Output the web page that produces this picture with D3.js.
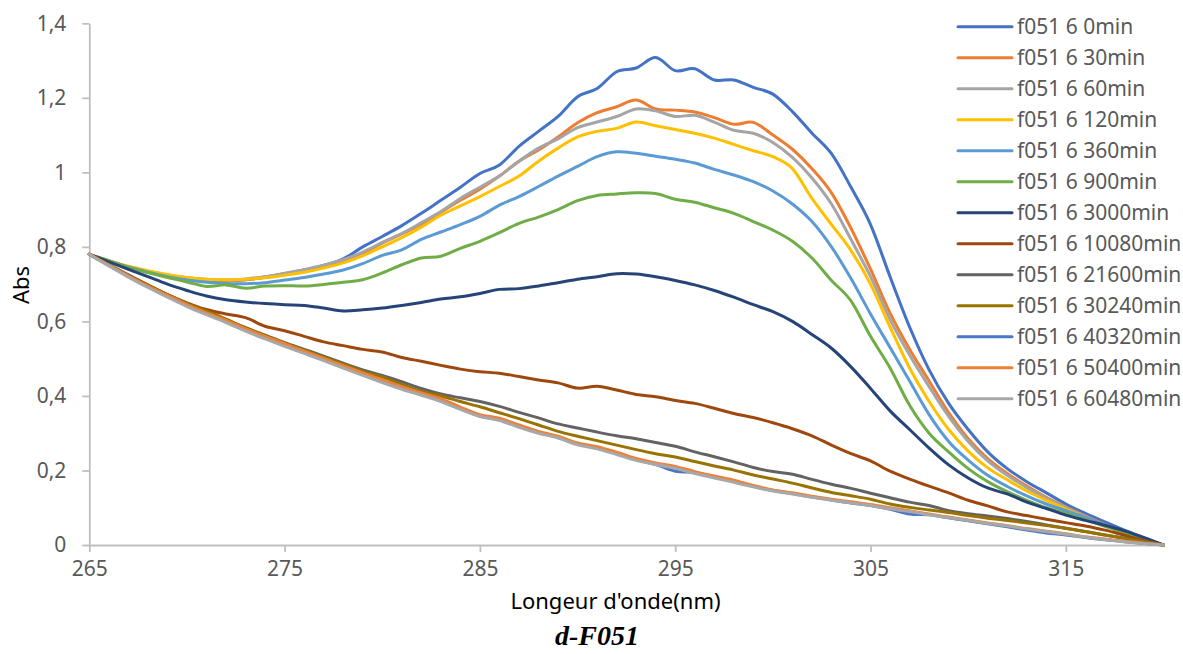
<!DOCTYPE html>
<html>
<head>
<meta charset="utf-8">
<script src="https://cdn.jsdelivr.net/npm/d3@7"></script>
<style>
  html, body { margin: 0; padding: 0; background: #fff; }
  svg { display: block; }
</style>
</head>
<body>
<svg id="chart" width="1183" height="654"></svg>
<script>
// Wavelength grid (nm)
const wavelengths = [265,266,267,268,269,270,271,272,273,274,275,276,277,278,279,
  280,281,282,283,284,285,286,287,288,289,290,291,292,293,294,295,296,297,298,299,
  300,301,302,303,304,305,306,307,308,309,310,311,312,313,314,315,316,317,318,319,320];

// Absorbance spectra, one array per irradiation time
const abs0 = [0.78,0.762,0.746,0.733,0.723,0.716,0.711,0.709,0.712,0.719,0.728,0.738,0.75,0.768,0.80,
  0.828,0.857,0.89,0.925,0.96,0.997,1.02,1.07,1.11,1.15,
  1.203,1.225,1.27,1.28,1.308,1.273,1.278,1.248,1.248,1.228,
  1.21,1.163,1.105,1.05,0.96,
  0.86,0.72,0.585,0.47,0.38,0.31,0.25,0.205,0.17,0.14,0.11,0.085,0.062,0.04,0.02,0];
const abs30 = [0.78,0.762,0.746,0.734,0.724,0.717,0.712,0.71,0.712,0.718,0.726,0.736,0.748,0.763,0.783,
  0.81,0.835,0.86,0.893,0.925,0.955,0.99,1.03,1.06,1.095,
  1.133,1.16,1.176,1.194,1.17,1.167,1.162,1.147,1.129,1.134,
  1.10,1.062,1.01,0.945,0.85,
  0.74,0.622,0.525,0.44,0.355,0.285,0.232,0.192,0.158,0.128,0.102,0.078,0.055,0.033,0.014,0];
const abs60 = [0.78,0.762,0.746,0.734,0.724,0.717,0.713,0.711,0.714,0.72,0.729,0.739,0.751,0.766,0.786,
  0.812,0.836,0.865,0.895,0.93,0.96,0.99,1.03,1.065,1.09,
  1.12,1.135,1.15,1.17,1.165,1.15,1.153,1.135,1.113,1.105,
  1.08,1.04,0.985,0.915,0.82,
  0.72,0.605,0.51,0.425,0.345,0.278,0.226,0.187,0.154,0.125,0.1,0.076,0.053,0.032,0.013,0];
const abs120 = [0.78,0.763,0.748,0.736,0.726,0.718,0.713,0.712,0.713,0.717,0.724,0.732,0.743,0.757,0.776,
  0.80,0.825,0.853,0.885,0.91,0.935,0.962,0.99,1.03,1.065,
  1.095,1.11,1.118,1.135,1.125,1.115,1.105,1.092,1.075,1.058,
  1.042,1.01,0.93,0.86,0.79,
  0.70,0.585,0.475,0.385,0.31,0.252,0.207,0.175,0.145,0.12,0.096,0.073,0.052,0.031,0.013,0];
const abs360 = [0.78,0.762,0.746,0.732,0.72,0.711,0.705,0.702,0.701,0.704,0.711,0.718,0.727,0.738,0.755,
  0.777,0.792,0.82,0.84,0.86,0.882,0.912,0.935,0.962,0.99,
  1.016,1.042,1.055,1.051,1.043,1.035,1.025,1.008,0.993,0.975,
  0.95,0.915,0.868,0.80,0.715,
  0.62,0.53,0.44,0.35,0.278,0.228,0.187,0.157,0.132,0.11,0.092,0.074,0.054,0.033,0.013,0];
const abs900 = [0.78,0.763,0.745,0.731,0.718,0.706,0.694,0.698,0.689,0.695,0.696,0.695,0.699,0.705,0.712,
  0.73,0.752,0.77,0.775,0.796,0.815,0.838,0.863,0.88,0.9,
  0.924,0.938,0.942,0.945,0.943,0.928,0.92,0.905,0.89,0.868,
  0.845,0.815,0.77,0.71,0.655,
  0.56,0.475,0.375,0.30,0.25,0.205,0.17,0.143,0.12,0.1,0.085,0.068,0.05,0.032,0.013,0];
const abs3000 = [0.78,0.76,0.74,0.72,0.70,0.683,0.668,0.658,0.652,0.648,0.645,0.643,0.636,0.628,0.631,
  0.636,0.643,0.651,0.66,0.666,0.675,0.686,0.688,0.695,0.704,
  0.713,0.72,0.728,0.727,0.72,0.71,0.698,0.683,0.665,0.645,
  0.626,0.60,0.565,0.528,0.478,
  0.42,0.36,0.31,0.26,0.215,0.18,0.153,0.137,0.115,0.098,0.08,0.066,0.053,0.038,0.02,0];
const abs10080 = [0.78,0.752,0.725,0.698,0.672,0.65,0.632,0.62,0.61,0.587,0.575,0.56,0.545,0.535,0.525,
  0.518,0.503,0.493,0.482,0.472,0.465,0.461,0.452,0.443,0.435,
  0.421,0.426,0.416,0.404,0.398,0.388,0.38,0.367,0.353,0.342,
  0.328,0.312,0.293,0.268,0.245,
  0.226,0.198,0.177,0.158,0.14,0.12,0.105,0.089,0.079,0.069,0.06,0.051,0.04,0.026,0.012,0];
const abs21600 = [0.78,0.752,0.724,0.697,0.672,0.648,0.627,0.605,0.583,0.563,0.543,0.525,0.507,0.488,0.47,
  0.455,0.438,0.42,0.405,0.395,0.385,0.372,0.356,0.341,0.325,
  0.314,0.303,0.293,0.285,0.275,0.265,0.25,0.237,0.223,0.208,
  0.197,0.19,0.176,0.163,0.152,
  0.139,0.127,0.115,0.106,0.092,0.084,0.078,0.071,0.063,0.054,0.045,0.036,0.027,0.018,0.009,0];
const abs30240 = [0.78,0.752,0.724,0.697,0.672,0.648,0.628,0.606,0.583,0.562,0.542,0.523,0.504,0.485,0.466,
  0.451,0.43,0.412,0.40,0.385,0.371,0.355,0.339,0.322,0.305,
  0.292,0.28,0.268,0.256,0.245,0.236,0.224,0.212,0.201,0.188,
  0.177,0.166,0.153,0.141,0.132,
  0.123,0.11,0.101,0.094,0.087,0.079,0.072,0.066,0.059,0.052,0.045,0.036,0.027,0.018,0.009,0];
const abs40320 = [0.78,0.75,0.721,0.694,0.668,0.643,0.621,0.6,0.577,0.557,0.537,0.517,0.498,0.478,0.459,
  0.44,0.422,0.405,0.39,0.366,0.346,0.337,0.319,0.302,0.289,
  0.271,0.261,0.246,0.229,0.216,0.198,0.195,0.182,0.171,0.157,
  0.146,0.138,0.129,0.121,0.113,
  0.106,0.096,0.083,0.081,0.073,0.065,0.057,0.049,0.04,0.032,0.027,0.02,0.014,0.009,0.004,0];
const abs50400 = [0.78,0.751,0.722,0.695,0.67,0.645,0.623,0.603,0.58,0.56,0.54,0.52,0.501,0.481,0.462,
  0.443,0.425,0.408,0.393,0.37,0.35,0.34,0.322,0.305,0.292,
  0.274,0.264,0.249,0.232,0.22,0.211,0.197,0.185,0.174,0.16,
  0.148,0.14,0.131,0.123,0.116,
  0.109,0.1,0.092,0.083,0.075,0.067,0.059,0.052,0.044,0.037,0.03,0.022,0.016,0.01,0.005,0];
const abs60480 = [0.78,0.749,0.719,0.691,0.665,0.64,0.618,0.597,0.574,0.553,0.533,0.514,0.495,0.475,0.455,
  0.436,0.418,0.402,0.385,0.364,0.345,0.334,0.316,0.3,0.287,
  0.269,0.258,0.243,0.227,0.216,0.206,0.192,0.18,0.168,0.156,
  0.145,0.137,0.128,0.12,0.113,
  0.106,0.097,0.09,0.081,0.073,0.066,0.058,0.051,0.043,0.036,0.029,0.021,0.015,0.009,0.004,0];

const seriesNames = ["f051 6 0min","f051 6 30min","f051 6 60min","f051 6 120min","f051 6 360min",
  "f051 6 900min","f051 6 3000min","f051 6 10080min","f051 6 21600min","f051 6 30240min",
  "f051 6 40320min","f051 6 50400min","f051 6 60480min"];
const seriesValues = [abs0, abs30, abs60, abs120, abs360, abs900, abs3000, abs10080,
  abs21600, abs30240, abs40320, abs50400, abs60480];
const seriesColors = ["#4472C4","#ED7D31","#A5A5A5","#FFC000","#5B9BD5","#70AD47","#264478",
  "#9E480E","#636363","#997300","#4A78C8","#EE8137","#A8A8A8"];

const xTicks = [265, 275, 285, 295, 305, 315];
const yTicks = [0, 0.2, 0.4, 0.6, 0.8, 1, 1.2, 1.4];

const svg = d3.select("#chart");
const FONT = "'Noto Sans', 'Open Sans', sans-serif";

const x = d3.scaleLinear().domain([265, 320]).range([89.3, 1163.5]);
const y = d3.scaleLinear().domain([0, 1.4]).range([545, 23.3]);

const fmt = d => (+d.toFixed(1)).toString().replace(".", ",");

// Axes
const axisColor = "#BFBFBF";
const gx = svg.append("g").attr("transform", `translate(0,${y(0)})`)
  .call(d3.axisBottom(x).tickValues(xTicks).tickSize(7).tickSizeOuter(0).tickPadding(9).tickFormat(d => d));
const gy = svg.append("g").attr("transform", `translate(${x(265)},0)`)
  .call(d3.axisLeft(y).tickValues(yTicks).tickSize(7).tickSizeOuter(0).tickPadding(16).tickFormat(fmt));

[gx, gy].forEach(g => {
  g.select(".domain").attr("stroke", axisColor).attr("stroke-width", 1.8);
  g.selectAll(".tick line").attr("stroke", axisColor).attr("stroke-width", 1.8);
  g.selectAll(".tick text").attr("fill", "#595959").style("font-family", FONT).style("font-size", "21px");
});

// Spectra
const line = d3.line()
  .x((d, i) => x(wavelengths[i]))
  .y(d => y(d))
  .curve(d3.curveCardinal.tension(0));

svg.append("g").selectAll("path")
  .data(seriesValues)
  .join("path")
  .attr("d", d => line(d))
  .attr("fill", "none")
  .attr("stroke", (d, i) => seriesColors[i])
  .attr("stroke-width", 3)
  .attr("stroke-linejoin", "round")
  .attr("stroke-linecap", "round");

// Legend
const legend = svg.append("g");
const rows = legend.selectAll("g").data(seriesNames).join("g")
  .attr("transform", (d, i) => `translate(958,${26.7 + 31 * i})`);
rows.append("line").attr("x1", 0).attr("x2", 54).attr("y1", 0).attr("y2", 0)
  .attr("stroke", (d, i) => seriesColors[i]).attr("stroke-width", 3).attr("stroke-linecap", "round");
rows.append("text").attr("x", 59).attr("y", 0).attr("dy", "0.35em")
  .attr("fill", "#595959").style("font-family", FONT).style("font-size", "21px")
  .text(d => d);

// Axis titles
svg.append("text").attr("x", 615.5).attr("y", 609)
  .attr("text-anchor", "middle").attr("fill", "#000")
  .style("font-family", FONT).style("font-size", "22px")
  .text("Longeur d'onde(nm)");
svg.append("text").attr("transform", "translate(29,285) rotate(-90)")
  .attr("text-anchor", "middle").attr("fill", "#000")
  .style("font-family", FONT).style("font-size", "22px")
  .text("Abs");

// Figure caption
svg.append("text").attr("x", 597).attr("y", 645)
  .attr("text-anchor", "middle").attr("fill", "#000")
  .style("font-family", "'Liberation Serif', 'Times New Roman', serif")
  .style("font-size", "28px").style("font-weight", "bold").style("font-style", "italic")
  .text("d-F051");
</script>
</body>
</html>
